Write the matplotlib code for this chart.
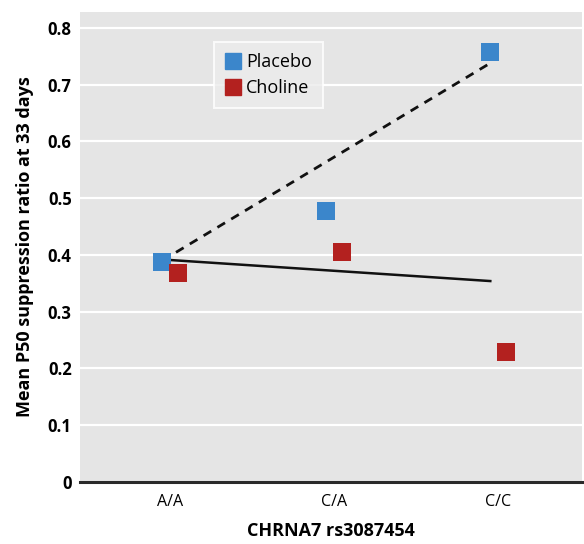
import numpy as np
import matplotlib.pyplot as plt
from matplotlib.lines import Line2D

# data
genotypes = ["A/A", "C/A", "C/C"]
placebo = [0.388, 0.478, 0.758]
choline = [0.368, 0.405, 0.229]
placebo_trend = [0.390, 0.738]   # dashed line, A/A -> C/C
choline_trend = [0.392, 0.354]   # solid line, A/A -> C/C
yticks = [0, 0.1, 0.2, 0.3, 0.4, 0.5, 0.6, 0.7, 0.8]

blue = "#3b86cb"
red = "#b3211f"
plt.rcParams["font.family"] = ["Open Sans", "DejaVu Sans"]

fig = plt.figure(figsize=(5.84, 5.44), dpi=100)
ax = fig.add_axes([80 / 584, 62 / 544, 502 / 584, 470 / 544])
ax.set_facecolor("#e5e5e5")

x = np.arange(len(genotypes))
off = 0.049
ends = [x[0] - off, x[-1] - off]

ax.plot(ends, placebo_trend, ls=(0, (3.2, 2.6)), color="#111111", lw=2.0, zorder=2)
ax.plot(ends, choline_trend, ls="-", color="#111111", lw=1.8, zorder=2)

ax.scatter(x - off, placebo, marker="s", s=150, color=blue, zorder=3, linewidths=0)
ax.scatter(x + off, choline, marker="s", s=150, color=red, zorder=3, linewidths=0)

ax.set_xlim(-0.55, 2.51)
ax.set_ylim(0, 0.828)
ax.set_yticks(yticks)
ax.set_yticklabels(["0"] + [f"{t:.1f}" for t in yticks[1:]], fontsize=12,
                   fontweight="bold")
ax.set_xticks(x)
ax.set_xticklabels(genotypes, fontsize=11.5)
ax.tick_params(axis="both", length=0)
ax.tick_params(axis="y", pad=6)
ax.tick_params(axis="x", pad=9)

ax.grid(axis="y", color="white", lw=1.6)
ax.set_axisbelow(True)
for side in ["top", "right", "left"]:
    ax.spines[side].set_visible(False)
ax.spines["bottom"].set_color("#2a2a2a")
ax.spines["bottom"].set_linewidth(2.2)

ax.set_ylabel("Mean P50 suppression ratio at 33 days", fontsize=13,
              fontweight="bold", labelpad=10)
ax.set_xlabel("CHRNA7 rs3087454", fontsize=13, fontweight="bold", labelpad=8)

handles = [
    Line2D([], [], marker="s", ls="none", color=blue, markersize=11, label="Placebo"),
    Line2D([], [], marker="s", ls="none", color=red, markersize=11, label="Choline"),
]
leg = ax.legend(handles=handles, loc="upper left", bbox_to_anchor=(0.248, 0.955),
                fontsize=13, frameon=True, fancybox=False, handletextpad=0.2,
                borderpad=0.6, labelspacing=0.45, handlelength=1.0)
leg.get_frame().set_facecolor("#ececec")
leg.get_frame().set_edgecolor("white")
leg.get_frame().set_linewidth(1.5)

fig.savefig("out.png", dpi=100)
